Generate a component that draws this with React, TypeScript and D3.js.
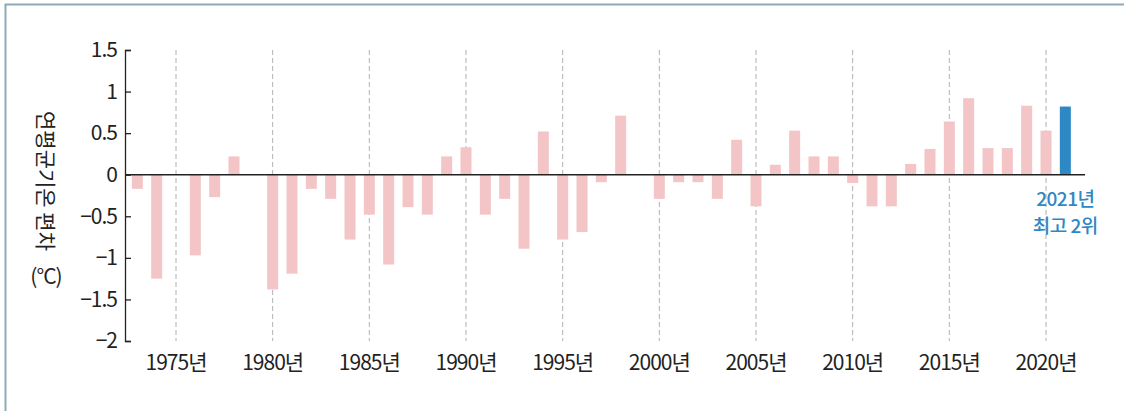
import React, { useEffect, useRef } from "react";
import * as d3 from "d3";

// 연평균기온 편차 (°C), 1973–2021
const years = d3.range(1973, 2022);
const anomalies = [
  -0.17, -1.25, 0, -0.97, -0.27, 0.22, 0, -1.38, -1.19, -0.17,
  -0.29, -0.78, -0.48, -1.08, -0.39, -0.48, 0.22, 0.33, -0.48, -0.29,
  -0.89, 0.52, -0.78, -0.69, -0.09, 0.71, 0, -0.29, -0.09, -0.09,
  -0.29, 0.42, -0.38, 0.12, 0.53, 0.22, 0.22, -0.1, -0.38, -0.38,
  0.13, 0.31, 0.64, 0.92, 0.32, 0.32, 0.83, 0.53, 0.82,
];
const yTicks = [1.5, 1, 0.5, 0, -0.5, -1, -1.5, -2];
const gridYears = d3.range(1975, 2021, 5);
const highlightYear = 2021;
const noteLines = ["2021년", "최고 2위"];

const App = () => {
  const svgRef = useRef(null);
  const width = 1124;
  const height = 411;

  useEffect(() => {
    document.body.style.margin = "0";
    const svg = d3.select(svgRef.current);
    svg.selectAll("*").remove();

    const font = "'Noto Sans CJK KR', 'Noto Sans', sans-serif";

    const x = d3.scaleLinear().domain([1975, 2020]).range([176, 1046]);
    const y = d3.scaleLinear().domain([-2, 1.5]).range([341, 50]);
    const barW = 11;
    const axisX = 125;

    // frame
    svg.append("path")
      .attr("d", `M5.5,${height} V4.5 H${width}`)
      .attr("fill", "none")
      .attr("stroke", "#8ea9b9")
      .attr("stroke-width", 2);

    // dashed year grid
    svg.append("g")
      .selectAll("line")
      .data(gridYears)
      .join("line")
      .attr("x1", (d) => x(d))
      .attr("x2", (d) => x(d))
      .attr("y1", y(1.5))
      .attr("y2", y(-2))
      .attr("stroke", "#b0b0b0")
      .attr("stroke-dasharray", "5,3");

    // bars
    const data = years.map((yr, i) => ({ yr, v: anomalies[i] }));
    svg.append("g")
      .selectAll("rect")
      .data(data.filter((d) => d.v !== 0))
      .join("rect")
      .attr("x", (d) => x(d.yr) - barW / 2)
      .attr("width", barW)
      .attr("y", (d) => y(Math.max(0, d.v)))
      .attr("height", (d) => Math.abs(y(d.v) - y(0)))
      .attr("fill", (d) => (d.yr === highlightYear ? "#2e88c3" : "#f3c5c6"));

    // zero line
    svg.append("line")
      .attr("x1", axisX)
      .attr("x2", 1085)
      .attr("y1", y(0))
      .attr("y2", y(0))
      .attr("stroke", "#222")
      .attr("stroke-width", 1.6);

    // y axis
    svg.append("g")
      .attr("transform", `translate(${axisX},0)`)
      .call(
        d3.axisLeft(y)
          .tickValues(yTicks)
          .tickFormat((d) => String(d).replace("-", "−"))
          .tickSizeInner(-6)
          .tickSizeOuter(-6)
          .tickPadding(8)
      )
      .call((g) => g.select(".domain").attr("stroke", "#222").attr("stroke-width", 1.3))
      .call((g) => g.selectAll(".tick line").attr("stroke", "#222").attr("stroke-width", 1.3))
      .call((g) =>
        g.selectAll(".tick text")
          .attr("fill", "#222")
          .style("font-family", font)
          .style("font-size", "21px")
          .style("letter-spacing", "-1px")
      );

    // x labels
    svg.append("g")
      .selectAll("text")
      .data(gridYears)
      .join("text")
      .attr("x", (d) => x(d))
      .attr("y", 370)
      .attr("text-anchor", "middle")
      .attr("fill", "#222")
      .style("font-family", font)
      .style("font-size", "21px")
      .style("letter-spacing", "-1px")
      .text((d) => `${d}년`);

    // y label
    svg.append("text")
      .attr("transform", "translate(38,181) rotate(90)")
      .attr("text-anchor", "middle")
      .attr("fill", "#222")
      .style("font-family", font)
      .style("font-size", "21px")
      .text("연평균기온 편차");
    svg.append("text")
      .attr("x", 46)
      .attr("y", 284)
      .attr("text-anchor", "middle")
      .attr("fill", "#222")
      .style("font-family", font)
      .style("font-size", "21px")
      .style("letter-spacing", "-1px")
      .text("(°C)");

    // highlight note
    svg.append("g")
      .selectAll("text")
      .data(noteLines)
      .join("text")
      .attr("x", x(highlightYear))
      .attr("y", (d, i) => 206 + i * 27)
      .attr("text-anchor", "middle")
      .attr("fill", "#2e88c3")
      .style("font-family", font)
      .style("font-size", "19px")
      .style("font-weight", 500)
      .style("letter-spacing", "-0.5px")
      .text((d) => d);
  }, []);

  return (
    <svg
      width={width}
      height={height}
      viewBox={`0 0 ${width} ${height}`}
      ref={svgRef}
      style={{ display: "block", background: "#fff" }}
    ></svg>
  );
};

export default App;
